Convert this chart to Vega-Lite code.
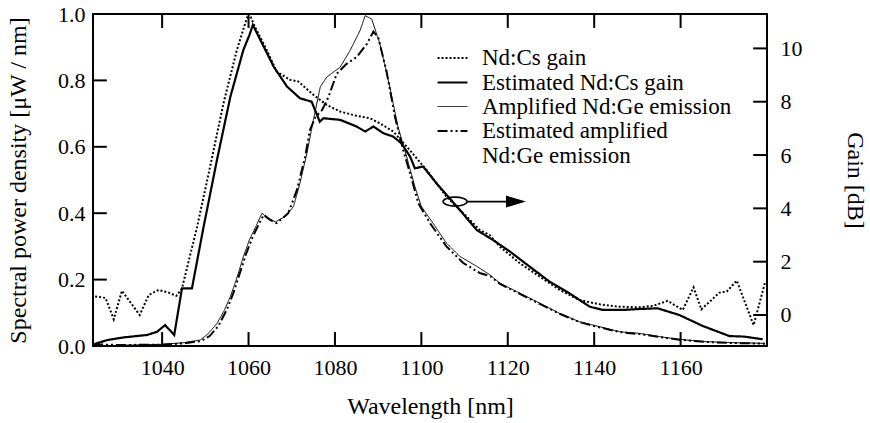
{
  "$schema": "https://vega.github.io/schema/vega-lite/v6.json",
  "width": 674,
  "height": 332,
  "autosize": {"type": "none"},
  "padding": {"left": 93, "top": 14, "right": 103, "bottom": 77},
  "background": "white",
  "datasets": {
    "emission": [
      {"s": "Amplified Nd:Ge emission", "wl": 1024, "v": 0.0},
      {"s": "Amplified Nd:Ge emission", "wl": 1030, "v": 0.002},
      {"s": "Amplified Nd:Ge emission", "wl": 1040, "v": 0.005},
      {"s": "Amplified Nd:Ge emission", "wl": 1045, "v": 0.01},
      {"s": "Amplified Nd:Ge emission", "wl": 1048.8, "v": 0.018},
      {"s": "Amplified Nd:Ge emission", "wl": 1050.5, "v": 0.035},
      {"s": "Amplified Nd:Ge emission", "wl": 1052.7, "v": 0.068},
      {"s": "Amplified Nd:Ge emission", "wl": 1054.3, "v": 0.105},
      {"s": "Amplified Nd:Ge emission", "wl": 1055.8, "v": 0.149},
      {"s": "Amplified Nd:Ge emission", "wl": 1057.3, "v": 0.205},
      {"s": "Amplified Nd:Ge emission", "wl": 1058.8, "v": 0.269},
      {"s": "Amplified Nd:Ge emission", "wl": 1060.2, "v": 0.32},
      {"s": "Amplified Nd:Ge emission", "wl": 1061.7, "v": 0.36},
      {"s": "Amplified Nd:Ge emission", "wl": 1063.1, "v": 0.4},
      {"s": "Amplified Nd:Ge emission", "wl": 1064.5, "v": 0.385},
      {"s": "Amplified Nd:Ge emission", "wl": 1066.2, "v": 0.374},
      {"s": "Amplified Nd:Ge emission", "wl": 1068.5, "v": 0.39},
      {"s": "Amplified Nd:Ge emission", "wl": 1070.4, "v": 0.42},
      {"s": "Amplified Nd:Ge emission", "wl": 1071.9, "v": 0.49},
      {"s": "Amplified Nd:Ge emission", "wl": 1073.5, "v": 0.58},
      {"s": "Amplified Nd:Ge emission", "wl": 1075.0, "v": 0.68},
      {"s": "Amplified Nd:Ge emission", "wl": 1076.6, "v": 0.78},
      {"s": "Amplified Nd:Ge emission", "wl": 1078.1, "v": 0.81},
      {"s": "Amplified Nd:Ge emission", "wl": 1081.2, "v": 0.84},
      {"s": "Amplified Nd:Ge emission", "wl": 1083.5, "v": 0.89},
      {"s": "Amplified Nd:Ge emission", "wl": 1085.8, "v": 0.95},
      {"s": "Amplified Nd:Ge emission", "wl": 1087.0, "v": 0.995},
      {"s": "Amplified Nd:Ge emission", "wl": 1088.5, "v": 0.985},
      {"s": "Amplified Nd:Ge emission", "wl": 1090.4, "v": 0.91},
      {"s": "Amplified Nd:Ge emission", "wl": 1092.7, "v": 0.78},
      {"s": "Amplified Nd:Ge emission", "wl": 1094.6, "v": 0.66},
      {"s": "Amplified Nd:Ge emission", "wl": 1096.6, "v": 0.57},
      {"s": "Amplified Nd:Ge emission", "wl": 1098.5, "v": 0.48},
      {"s": "Amplified Nd:Ge emission", "wl": 1100.0, "v": 0.42},
      {"s": "Amplified Nd:Ge emission", "wl": 1102.7, "v": 0.37},
      {"s": "Amplified Nd:Ge emission", "wl": 1105.8, "v": 0.31},
      {"s": "Amplified Nd:Ge emission", "wl": 1108.9, "v": 0.27},
      {"s": "Amplified Nd:Ge emission", "wl": 1112.8, "v": 0.24},
      {"s": "Amplified Nd:Ge emission", "wl": 1115.8, "v": 0.215},
      {"s": "Amplified Nd:Ge emission", "wl": 1118.2, "v": 0.189},
      {"s": "Amplified Nd:Ge emission", "wl": 1122.8, "v": 0.159},
      {"s": "Amplified Nd:Ge emission", "wl": 1127.4, "v": 0.129},
      {"s": "Amplified Nd:Ge emission", "wl": 1132.0, "v": 0.098},
      {"s": "Amplified Nd:Ge emission", "wl": 1136.6, "v": 0.073},
      {"s": "Amplified Nd:Ge emission", "wl": 1141.3, "v": 0.058},
      {"s": "Amplified Nd:Ge emission", "wl": 1145.9, "v": 0.043},
      {"s": "Amplified Nd:Ge emission", "wl": 1150.5, "v": 0.038},
      {"s": "Amplified Nd:Ge emission", "wl": 1155.2, "v": 0.028},
      {"s": "Amplified Nd:Ge emission", "wl": 1159.7, "v": 0.02},
      {"s": "Amplified Nd:Ge emission", "wl": 1165.9, "v": 0.013},
      {"s": "Amplified Nd:Ge emission", "wl": 1172.1, "v": 0.01},
      {"s": "Amplified Nd:Ge emission", "wl": 1179.5, "v": 0.008},
      {"s": "Estimated amplified Nd:Ge emission", "wl": 1024, "v": 0.005},
      {"s": "Estimated amplified Nd:Ge emission", "wl": 1030, "v": 0.003},
      {"s": "Estimated amplified Nd:Ge emission", "wl": 1040, "v": 0.004},
      {"s": "Estimated amplified Nd:Ge emission", "wl": 1045, "v": 0.008},
      {"s": "Estimated amplified Nd:Ge emission", "wl": 1049, "v": 0.015},
      {"s": "Estimated amplified Nd:Ge emission", "wl": 1051, "v": 0.03},
      {"s": "Estimated amplified Nd:Ge emission", "wl": 1053, "v": 0.06},
      {"s": "Estimated amplified Nd:Ge emission", "wl": 1055, "v": 0.11},
      {"s": "Estimated amplified Nd:Ge emission", "wl": 1056.5, "v": 0.16},
      {"s": "Estimated amplified Nd:Ge emission", "wl": 1058, "v": 0.22},
      {"s": "Estimated amplified Nd:Ge emission", "wl": 1059.5, "v": 0.28},
      {"s": "Estimated amplified Nd:Ge emission", "wl": 1061, "v": 0.33},
      {"s": "Estimated amplified Nd:Ge emission", "wl": 1062.5, "v": 0.37},
      {"s": "Estimated amplified Nd:Ge emission", "wl": 1063.5, "v": 0.395},
      {"s": "Estimated amplified Nd:Ge emission", "wl": 1065, "v": 0.38},
      {"s": "Estimated amplified Nd:Ge emission", "wl": 1066.5, "v": 0.37},
      {"s": "Estimated amplified Nd:Ge emission", "wl": 1069.2, "v": 0.4},
      {"s": "Estimated amplified Nd:Ge emission", "wl": 1071.2, "v": 0.47},
      {"s": "Estimated amplified Nd:Ge emission", "wl": 1073.1, "v": 0.57},
      {"s": "Estimated amplified Nd:Ge emission", "wl": 1074.2, "v": 0.65},
      {"s": "Estimated amplified Nd:Ge emission", "wl": 1075.5, "v": 0.69},
      {"s": "Estimated amplified Nd:Ge emission", "wl": 1077, "v": 0.71},
      {"s": "Estimated amplified Nd:Ge emission", "wl": 1078.5, "v": 0.75},
      {"s": "Estimated amplified Nd:Ge emission", "wl": 1080.4, "v": 0.82},
      {"s": "Estimated amplified Nd:Ge emission", "wl": 1082.7, "v": 0.85},
      {"s": "Estimated amplified Nd:Ge emission", "wl": 1085.0, "v": 0.87},
      {"s": "Estimated amplified Nd:Ge emission", "wl": 1087.4, "v": 0.91},
      {"s": "Estimated amplified Nd:Ge emission", "wl": 1088.9, "v": 0.947},
      {"s": "Estimated amplified Nd:Ge emission", "wl": 1090.0, "v": 0.93},
      {"s": "Estimated amplified Nd:Ge emission", "wl": 1091.9, "v": 0.83},
      {"s": "Estimated amplified Nd:Ge emission", "wl": 1093.9, "v": 0.69},
      {"s": "Estimated amplified Nd:Ge emission", "wl": 1095.8, "v": 0.59},
      {"s": "Estimated amplified Nd:Ge emission", "wl": 1097.4, "v": 0.52},
      {"s": "Estimated amplified Nd:Ge emission", "wl": 1099.3, "v": 0.43},
      {"s": "Estimated amplified Nd:Ge emission", "wl": 1102.0, "v": 0.37},
      {"s": "Estimated amplified Nd:Ge emission", "wl": 1105.8, "v": 0.3},
      {"s": "Estimated amplified Nd:Ge emission", "wl": 1109.7, "v": 0.25},
      {"s": "Estimated amplified Nd:Ge emission", "wl": 1113.5, "v": 0.22},
      {"s": "Estimated amplified Nd:Ge emission", "wl": 1116, "v": 0.21},
      {"s": "Estimated amplified Nd:Ge emission", "wl": 1118.2, "v": 0.187},
      {"s": "Estimated amplified Nd:Ge emission", "wl": 1122.8, "v": 0.157},
      {"s": "Estimated amplified Nd:Ge emission", "wl": 1127.4, "v": 0.127},
      {"s": "Estimated amplified Nd:Ge emission", "wl": 1132.0, "v": 0.097},
      {"s": "Estimated amplified Nd:Ge emission", "wl": 1136.6, "v": 0.072},
      {"s": "Estimated amplified Nd:Ge emission", "wl": 1141.3, "v": 0.056},
      {"s": "Estimated amplified Nd:Ge emission", "wl": 1145.9, "v": 0.042},
      {"s": "Estimated amplified Nd:Ge emission", "wl": 1150.5, "v": 0.036},
      {"s": "Estimated amplified Nd:Ge emission", "wl": 1155.2, "v": 0.027},
      {"s": "Estimated amplified Nd:Ge emission", "wl": 1159.7, "v": 0.019},
      {"s": "Estimated amplified Nd:Ge emission", "wl": 1165.9, "v": 0.012},
      {"s": "Estimated amplified Nd:Ge emission", "wl": 1172.1, "v": 0.009},
      {"s": "Estimated amplified Nd:Ge emission", "wl": 1179.5, "v": 0.007}
    ],
    "gain": [
      {"s": "Nd:Cs gain", "wl": 1024.5, "g": 0.69},
      {"s": "Nd:Cs gain", "wl": 1026.9, "g": 0.64},
      {"s": "Nd:Cs gain", "wl": 1028.8, "g": -0.16},
      {"s": "Nd:Cs gain", "wl": 1030.7, "g": 0.91},
      {"s": "Nd:Cs gain", "wl": 1034.8, "g": 0.0},
      {"s": "Nd:Cs gain", "wl": 1036.9, "g": 0.75},
      {"s": "Nd:Cs gain", "wl": 1039.2, "g": 0.94},
      {"s": "Nd:Cs gain", "wl": 1041.5, "g": 0.84},
      {"s": "Nd:Cs gain", "wl": 1043.3, "g": 0.72},
      {"s": "Nd:Cs gain", "wl": 1044.6, "g": 1.0},
      {"s": "Nd:Cs gain", "wl": 1048.1, "g": 3.31},
      {"s": "Nd:Cs gain", "wl": 1051.1, "g": 5.56},
      {"s": "Nd:Cs gain", "wl": 1054.2, "g": 7.94},
      {"s": "Nd:Cs gain", "wl": 1057.3, "g": 9.94},
      {"s": "Nd:Cs gain", "wl": 1059.6, "g": 11.13},
      {"s": "Nd:Cs gain", "wl": 1060.2, "g": 11.29},
      {"s": "Nd:Cs gain", "wl": 1061.5, "g": 10.8},
      {"s": "Nd:Cs gain", "wl": 1064.2, "g": 9.94},
      {"s": "Nd:Cs gain", "wl": 1066.5, "g": 9.13},
      {"s": "Nd:Cs gain", "wl": 1069.6, "g": 8.82},
      {"s": "Nd:Cs gain", "wl": 1071.5, "g": 8.76},
      {"s": "Nd:Cs gain", "wl": 1075.0, "g": 8.26},
      {"s": "Nd:Cs gain", "wl": 1078.1, "g": 7.88},
      {"s": "Nd:Cs gain", "wl": 1081.2, "g": 7.63},
      {"s": "Nd:Cs gain", "wl": 1085.0, "g": 7.47},
      {"s": "Nd:Cs gain", "wl": 1088.1, "g": 7.38},
      {"s": "Nd:Cs gain", "wl": 1090.4, "g": 7.19},
      {"s": "Nd:Cs gain", "wl": 1093.5, "g": 6.88},
      {"s": "Nd:Cs gain", "wl": 1096.6, "g": 6.32},
      {"s": "Nd:Cs gain", "wl": 1101.2, "g": 5.44},
      {"s": "Nd:Cs gain", "wl": 1105.8, "g": 4.44},
      {"s": "Nd:Cs gain", "wl": 1110.5, "g": 3.69},
      {"s": "Nd:Cs gain", "wl": 1113.5, "g": 3.19},
      {"s": "Nd:Cs gain", "wl": 1115.8, "g": 3.0},
      {"s": "Nd:Cs gain", "wl": 1118.2, "g": 2.56},
      {"s": "Nd:Cs gain", "wl": 1122.8, "g": 1.94},
      {"s": "Nd:Cs gain", "wl": 1127.4, "g": 1.44},
      {"s": "Nd:Cs gain", "wl": 1132.0, "g": 0.94},
      {"s": "Nd:Cs gain", "wl": 1136.6, "g": 0.56},
      {"s": "Nd:Cs gain", "wl": 1141.3, "g": 0.4},
      {"s": "Nd:Cs gain", "wl": 1145.9, "g": 0.31},
      {"s": "Nd:Cs gain", "wl": 1150.5, "g": 0.29},
      {"s": "Nd:Cs gain", "wl": 1153.6, "g": 0.34},
      {"s": "Nd:Cs gain", "wl": 1157.0, "g": 0.53},
      {"s": "Nd:Cs gain", "wl": 1160.5, "g": 0.19},
      {"s": "Nd:Cs gain", "wl": 1163.0, "g": 1.04},
      {"s": "Nd:Cs gain", "wl": 1164.8, "g": 0.21},
      {"s": "Nd:Cs gain", "wl": 1169.0, "g": 0.84},
      {"s": "Nd:Cs gain", "wl": 1170.7, "g": 0.88},
      {"s": "Nd:Cs gain", "wl": 1173.0, "g": 1.29},
      {"s": "Nd:Cs gain", "wl": 1176.9, "g": -0.38},
      {"s": "Nd:Cs gain", "wl": 1179.5, "g": 1.19},
      {"s": "Estimated Nd:Cs gain", "wl": 1024.1, "g": -1.1},
      {"s": "Estimated Nd:Cs gain", "wl": 1027.3, "g": -0.94},
      {"s": "Estimated Nd:Cs gain", "wl": 1031.1, "g": -0.84},
      {"s": "Estimated Nd:Cs gain", "wl": 1036.5, "g": -0.75},
      {"s": "Estimated Nd:Cs gain", "wl": 1038.8, "g": -0.63},
      {"s": "Estimated Nd:Cs gain", "wl": 1040.7, "g": -0.38},
      {"s": "Estimated Nd:Cs gain", "wl": 1042.8, "g": -0.75},
      {"s": "Estimated Nd:Cs gain", "wl": 1044.6, "g": 1.0},
      {"s": "Estimated Nd:Cs gain", "wl": 1046.9, "g": 1.0},
      {"s": "Estimated Nd:Cs gain", "wl": 1049.6, "g": 3.31},
      {"s": "Estimated Nd:Cs gain", "wl": 1052.7, "g": 5.82},
      {"s": "Estimated Nd:Cs gain", "wl": 1055.8, "g": 8.19},
      {"s": "Estimated Nd:Cs gain", "wl": 1058.8, "g": 9.94},
      {"s": "Estimated Nd:Cs gain", "wl": 1060.2, "g": 10.5},
      {"s": "Estimated Nd:Cs gain", "wl": 1061.0, "g": 10.88},
      {"s": "Estimated Nd:Cs gain", "wl": 1063.5, "g": 10.07},
      {"s": "Estimated Nd:Cs gain", "wl": 1065.8, "g": 9.32},
      {"s": "Estimated Nd:Cs gain", "wl": 1068.9, "g": 8.57},
      {"s": "Estimated Nd:Cs gain", "wl": 1071.9, "g": 8.13},
      {"s": "Estimated Nd:Cs gain", "wl": 1074.6, "g": 8.0},
      {"s": "Estimated Nd:Cs gain", "wl": 1076.5, "g": 7.25},
      {"s": "Estimated Nd:Cs gain", "wl": 1077.3, "g": 7.38},
      {"s": "Estimated Nd:Cs gain", "wl": 1081.2, "g": 7.32},
      {"s": "Estimated Nd:Cs gain", "wl": 1085.0, "g": 7.07},
      {"s": "Estimated Nd:Cs gain", "wl": 1087.0, "g": 6.88},
      {"s": "Estimated Nd:Cs gain", "wl": 1088.9, "g": 7.07},
      {"s": "Estimated Nd:Cs gain", "wl": 1091.2, "g": 6.82},
      {"s": "Estimated Nd:Cs gain", "wl": 1093.5, "g": 6.69},
      {"s": "Estimated Nd:Cs gain", "wl": 1095.4, "g": 6.44},
      {"s": "Estimated Nd:Cs gain", "wl": 1097.4, "g": 5.94},
      {"s": "Estimated Nd:Cs gain", "wl": 1098.5, "g": 5.5},
      {"s": "Estimated Nd:Cs gain", "wl": 1100.4, "g": 5.57},
      {"s": "Estimated Nd:Cs gain", "wl": 1103.5, "g": 4.94},
      {"s": "Estimated Nd:Cs gain", "wl": 1106.2, "g": 4.44},
      {"s": "Estimated Nd:Cs gain", "wl": 1108.9, "g": 3.94},
      {"s": "Estimated Nd:Cs gain", "wl": 1112.8, "g": 3.19},
      {"s": "Estimated Nd:Cs gain", "wl": 1116.6, "g": 2.81},
      {"s": "Estimated Nd:Cs gain", "wl": 1120.5, "g": 2.38},
      {"s": "Estimated Nd:Cs gain", "wl": 1125.1, "g": 1.81},
      {"s": "Estimated Nd:Cs gain", "wl": 1129.7, "g": 1.25},
      {"s": "Estimated Nd:Cs gain", "wl": 1134.3, "g": 0.81},
      {"s": "Estimated Nd:Cs gain", "wl": 1139.0, "g": 0.31},
      {"s": "Estimated Nd:Cs gain", "wl": 1142.0, "g": 0.19},
      {"s": "Estimated Nd:Cs gain", "wl": 1146.7, "g": 0.19},
      {"s": "Estimated Nd:Cs gain", "wl": 1149.7, "g": 0.22},
      {"s": "Estimated Nd:Cs gain", "wl": 1154.7, "g": 0.25},
      {"s": "Estimated Nd:Cs gain", "wl": 1159.7, "g": 0.0},
      {"s": "Estimated Nd:Cs gain", "wl": 1165.1, "g": -0.41},
      {"s": "Estimated Nd:Cs gain", "wl": 1171.3, "g": -0.79},
      {"s": "Estimated Nd:Cs gain", "wl": 1174.7, "g": -0.81},
      {"s": "Estimated Nd:Cs gain", "wl": 1179.0, "g": -0.91}
    ],
    "marker": [
      {"wl": 1107.8, "v": 0.435}
    ],
    "arrow": [
      {"wl": 1110.5, "wl2": 1120.0, "v": 0.435}
    ],
    "head": [
      {"wl": 1121.9, "v": 0.435}
    ],
    "bticks": [
      {"wl": 1040, "v": 0}, {"wl": 1060, "v": 0}, {"wl": 1080, "v": 0}, {"wl": 1100, "v": 0}, {"wl": 1120, "v": 0}, {"wl": 1140, "v": 0}, {"wl": 1160, "v": 0}
    ],
    "tticks": [
      {"wl": 1040, "v": 1}, {"wl": 1060, "v": 1}, {"wl": 1080, "v": 1}, {"wl": 1100, "v": 1}, {"wl": 1120, "v": 1}, {"wl": 1140, "v": 1}, {"wl": 1160, "v": 1}
    ],
    "lticks": [
      {"wl": 1024, "v": 0.2}, {"wl": 1024, "v": 0.4}, {"wl": 1024, "v": 0.6}, {"wl": 1024, "v": 0.8}
    ],
    "rticks": [
      {"wl": 1180, "g": 0}, {"wl": 1180, "g": 2}, {"wl": 1180, "g": 4}, {"wl": 1180, "g": 6}, {"wl": 1180, "g": 8}, {"wl": 1180, "g": 10}
    ]
  },
  "layer": [
    {
      "data": {"name": "emission"},
      "mark": {"type": "line", "color": "black", "clip": true},
      "encoding": {
        "x": {
          "field": "wl", "type": "quantitative",
          "scale": {"domain": [1024, 1180], "nice": false, "zero": false},
          "axis": {"orient": "bottom", "title": "Wavelength [nm]", "values": [1040, 1060, 1080, 1100, 1120, 1140, 1160], "format": "d", "labelPadding": 11, "titlePadding": 16, "titleFontSize": 24}
        },
        "y": {
          "field": "v", "type": "quantitative",
          "scale": {"domain": [0, 1], "nice": false},
          "axis": {"orient": "left", "title": "Spectral power density [μW / nm]", "values": [0, 0.2, 0.4, 0.6, 0.8, 1.0], "format": ".1f", "labelPadding": 8, "titlePadding": 27, "titleFontSize": 24}
        },
        "strokeDash": {
          "field": "s", "type": "nominal",
          "scale": {"domain": ["Nd:Cs gain", "Estimated Nd:Cs gain", "Amplified Nd:Ge emission", "Estimated amplified Nd:Ge emission"], "range": [[2, 2], [1, 0], [1, 0], [10, 3, 2, 3, 2, 3]]},
          "legend": {
            "orient": "none", "legendX": 347, "legendY": 32, "title": null,
            "symbolType": "M -1.36 0 L 1.36 0", "symbolSize": 484, "rowPadding": 0,
            "symbolStrokeColor": "black", "symbolFillColor": "transparent", "symbolStrokeWidth": 2,
            "labelOffset": 17, "labelLimit": 400, "labelFontSize": 23,
            "labelExpr": "datum.label == 'Estimated amplified Nd:Ge emission' ? ['Estimated amplified', 'Nd:Ge emission'] : datum.label"
          }
        },
        "strokeWidth": {
          "field": "s", "type": "nominal",
          "scale": {"type": "ordinal", "domain": ["Nd:Cs gain", "Estimated Nd:Cs gain", "Amplified Nd:Ge emission", "Estimated amplified Nd:Ge emission"], "range": [2, 2.2, 1, 2]},
          "legend": null
        }
      }
    },
    {
      "data": {"name": "gain"},
      "mark": {"type": "line", "color": "black", "clip": true},
      "encoding": {
        "x": {
          "field": "wl", "type": "quantitative",
          "scale": {"domain": [1024, 1180], "nice": false, "zero": false},
          "axis": null
        },
        "y": {
          "field": "g", "type": "quantitative",
          "scale": {"domain": [-1.163, 11.29], "nice": false, "zero": false},
          "axis": {"orient": "right", "title": "Gain [dB]", "values": [0, 2, 4, 6, 8, 10], "format": "d", "labelPadding": 13, "titlePadding": 40, "titleAngle": 90, "titleFontSize": 24}
        },
        "strokeDash": {
          "field": "s", "type": "nominal",
          "scale": {"domain": ["Nd:Cs gain", "Estimated Nd:Cs gain", "Amplified Nd:Ge emission", "Estimated amplified Nd:Ge emission"], "range": [[2, 2], [1, 0], [1, 0], [10, 3, 2, 3, 2, 3]]},
          "legend": null
        },
        "strokeWidth": {
          "field": "s", "type": "nominal",
          "scale": {"type": "ordinal", "domain": ["Nd:Cs gain", "Estimated Nd:Cs gain", "Amplified Nd:Ge emission", "Estimated amplified Nd:Ge emission"], "range": [2, 2.2, 1, 2]},
          "legend": null
        }
      }
    },
    {
      "data": {"name": "bticks"},
      "mark": {"type": "rule", "color": "black", "strokeWidth": 2},
      "encoding": {
        "x": {"field": "wl", "type": "quantitative", "scale": {"domain": [1024, 1180], "nice": false, "zero": false}, "axis": null},
        "y": {"field": "v", "type": "quantitative", "scale": {"domain": [0, 1], "nice": false}, "axis": null},
        "y2": {"datum": 0.042}
      }
    },
    {
      "data": {"name": "tticks"},
      "mark": {"type": "rule", "color": "black", "strokeWidth": 2},
      "encoding": {
        "x": {"field": "wl", "type": "quantitative", "scale": {"domain": [1024, 1180], "nice": false, "zero": false}, "axis": null},
        "y": {"field": "v", "type": "quantitative", "scale": {"domain": [0, 1], "nice": false}, "axis": null},
        "y2": {"datum": 0.958}
      }
    },
    {
      "data": {"name": "lticks"},
      "mark": {"type": "rule", "color": "black", "strokeWidth": 2},
      "encoding": {
        "x": {"field": "wl", "type": "quantitative", "scale": {"domain": [1024, 1180], "nice": false, "zero": false}, "axis": null},
        "x2": {"datum": 1027.2},
        "y": {"field": "v", "type": "quantitative", "scale": {"domain": [0, 1], "nice": false}, "axis": null}
      }
    },
    {
      "data": {"name": "rticks"},
      "mark": {"type": "rule", "color": "black", "strokeWidth": 2},
      "encoding": {
        "x": {"field": "wl", "type": "quantitative", "scale": {"domain": [1024, 1180], "nice": false, "zero": false}, "axis": null},
        "x2": {"datum": 1176.8},
        "y": {"field": "g", "type": "quantitative", "scale": {"domain": [-1.163, 11.29], "nice": false, "zero": false}, "axis": null}
      }
    },
    {
      "data": {"name": "marker"},
      "mark": {"type": "point", "shape": "M -1 0 A 1 0.375 0 1 0 1 0 A 1 0.375 0 1 0 -1 0 Z", "filled": false, "stroke": "black", "strokeWidth": 1.6, "size": 576, "opacity": 1},
      "encoding": {
        "x": {"field": "wl", "type": "quantitative", "scale": {"domain": [1024, 1180], "nice": false, "zero": false}, "axis": null},
        "y": {"field": "v", "type": "quantitative", "scale": {"domain": [0, 1], "nice": false}, "axis": null}
      }
    },
    {
      "data": {"name": "arrow"},
      "mark": {"type": "rule", "color": "black", "strokeWidth": 1.6},
      "encoding": {
        "x": {"field": "wl", "type": "quantitative", "scale": {"domain": [1024, 1180], "nice": false, "zero": false}, "axis": null},
        "x2": {"field": "wl2"},
        "y": {"field": "v", "type": "quantitative", "scale": {"domain": [0, 1], "nice": false}, "axis": null}
      }
    },
    {
      "data": {"name": "head"},
      "mark": {"type": "point", "shape": "M -1 -0.6 L 1 0 L -1 0.6 Z", "filled": true, "color": "black", "size": 400, "opacity": 1},
      "encoding": {
        "x": {"field": "wl", "type": "quantitative", "scale": {"domain": [1024, 1180], "nice": false, "zero": false}, "axis": null},
        "y": {"field": "v", "type": "quantitative", "scale": {"domain": [0, 1], "nice": false}, "axis": null}
      }
    }
  ],
  "resolve": {"scale": {"y": "independent"}, "axis": {"x": "independent"}},
  "config": {
    "view": {"stroke": "black", "strokeWidth": 2},
    "font": "Liberation Serif",
    "axis": {
      "grid": false, "domain": false, "ticks": false,
      "labelColor": "black", "labelFont": "Liberation Serif", "labelFontSize": 22,
      "titleColor": "black", "titleFont": "Liberation Serif", "titleFontSize": 24, "titleFontWeight": "normal"
    },
    "legend": {
      "labelFont": "Liberation Serif", "labelFontSize": 23, "labelColor": "black"
    }
  }
}
